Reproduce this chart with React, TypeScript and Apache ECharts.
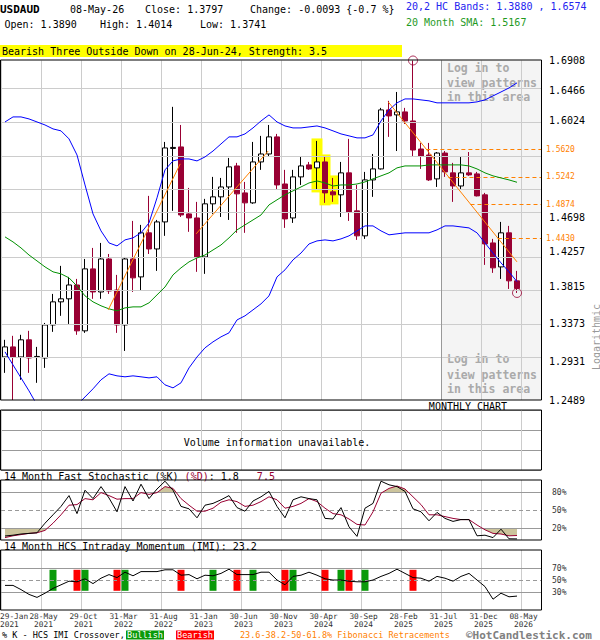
import React, { useEffect, useRef } from "react";
import * as echarts from "echarts";

// ---------------- data (monthly, Jan-2021 .. May-2026) ----------------
const opens = [
  1.2978, 1.3095, 1.2978, 1.3178, 1.2972, 1.2966, 1.3354, 1.3632, 1.3669, 1.3839,
  1.3284, 1.4039, 1.3753, 1.4164, 1.3777, 1.3354, 1.4164, 1.3939, 1.4498, 1.4291,
  1.464, 1.5632, 1.5653, 1.4745, 1.4692, 1.4189, 1.4878, 1.4971, 1.5104, 1.539,
  1.5024, 1.4891, 1.5445, 1.5555, 1.5794, 1.5144, 1.4692, 1.524, 1.5404, 1.5363,
  1.5445, 1.5038, 1.4998, 1.5295, 1.4785, 1.4459, 1.5199, 1.5349, 1.6179, 1.6107,
  1.615, 1.602, 1.5624, 1.5541, 1.5213, 1.5568, 1.5295, 1.5117, 1.5295, 1.5281,
  1.4998, 1.4368, 1.4064, 1.4498, 1.389,
];
const highs = [
  1.3178, 1.3225, 1.3237, 1.3284, 1.3095, 1.3378, 1.3729, 1.4077, 1.3939, 1.3914,
  1.4164, 1.4304, 1.4368, 1.4227, 1.3964, 1.4189, 1.4653, 1.4601, 1.4984, 1.4666,
  1.5723, 1.6223, 1.5963, 1.5091, 1.4904, 1.4944, 1.524, 1.5226, 1.55, 1.5432,
  1.5172, 1.5723, 1.5808, 1.5963, 1.5836, 1.5336, 1.5336, 1.5527, 1.5445, 1.5737,
  1.5514, 1.5226, 1.5445, 1.5766, 1.5131, 1.5308, 1.5555, 1.6208, 1.631, 1.644,
  1.6208, 1.6908, 1.5709, 1.5709, 1.5582, 1.5596, 1.5432, 1.5527, 1.5582, 1.5308,
  1.5024, 1.442, 1.464, 1.4588, 1.4014,
];
const lows = [
  1.2795, 1.2489, 1.2716, 1.2795, 1.2682, 1.2852, 1.3272, 1.3463, 1.3366, 1.3237,
  1.326, 1.3669, 1.3669, 1.3729, 1.326, 1.3048, 1.3753, 1.3777, 1.4227, 1.4014,
  1.4459, 1.4785, 1.4705, 1.4511, 1.4002, 1.3977, 1.4745, 1.4705, 1.4666, 1.4498,
  1.4498, 1.4878, 1.5336, 1.5514, 1.5064, 1.4562, 1.4627, 1.5131, 1.5336, 1.5064,
  1.4891, 1.4904, 1.4705, 1.4653, 1.4407, 1.442, 1.4971, 1.534, 1.5794, 1.5596,
  1.5977, 1.5514, 1.5349, 1.5185, 1.5104, 1.524, 1.4904, 1.5077, 1.5254, 1.4977,
  1.4089, 1.3989, 1.3914, 1.379, 1.3741,
];
const closes = [
  1.3095, 1.2978, 1.3178, 1.2966, 1.2984, 1.3354, 1.3632, 1.3669, 1.3839, 1.3284,
  1.4039, 1.3753, 1.4164, 1.3765, 1.3354, 1.4164, 1.3927, 1.4498, 1.4291, 1.464,
  1.5639, 1.5646, 1.4731, 1.4692, 1.4189, 1.4878, 1.4971, 1.5104, 1.5377, 1.5011,
  1.4891, 1.5445, 1.5555, 1.5794, 1.5131, 1.4679, 1.524, 1.539, 1.5349, 1.5445,
  1.5024, 1.4998, 1.5295, 1.4771, 1.4459, 1.5199, 1.5349, 1.6179, 1.6092, 1.615,
  1.602, 1.561, 1.5527, 1.5199, 1.5568, 1.5308, 1.5117, 1.5295, 1.5267, 1.4984,
  1.4355, 1.4052, 1.4498, 1.389, 1.3797,
];
const hcUpper = [
  1.6006, 1.6078, 1.6078, 1.6049, 1.6006, 1.5963, 1.5907, 1.5879, 1.5766, 1.5541,
  1.5131, 1.4745, 1.4523, 1.4368, 1.433, 1.4407, 1.4433, 1.4498, 1.4627, 1.4958,
  1.5336, 1.5459, 1.5486, 1.5486, 1.5459, 1.5514, 1.5596, 1.5695, 1.5794, 1.5794,
  1.5836, 1.5921, 1.602, 1.6107, 1.6006, 1.5949, 1.5921, 1.5921, 1.5935, 1.5949,
  1.5921, 1.5879, 1.5836, 1.5808, 1.578, 1.578, 1.5822, 1.602, 1.6179, 1.6281,
  1.6338, 1.6338, 1.6324, 1.631, 1.6281, 1.6281, 1.6281, 1.6281, 1.6281, 1.6295,
  1.6324, 1.6382, 1.644, 1.6499, 1.6574,
];
const hcLower = [
  1.3037, 1.2886, 1.2738, 1.2591, 1.2434, 1.2365, 1.2321, 1.2321, 1.2365, 1.2434,
  1.2523, 1.2614, 1.2716, 1.2784, 1.2761, 1.275, 1.2761, 1.275, 1.2738, 1.275,
  1.2659, 1.2625, 1.2682, 1.2852, 1.2978, 1.3084, 1.3154, 1.3213, 1.326, 1.3414,
  1.3463, 1.3535, 1.3608, 1.3705, 1.3939, 1.4027, 1.4152, 1.4239, 1.4355, 1.4394,
  1.4407, 1.4394, 1.442, 1.4459, 1.4523, 1.4588, 1.4588, 1.4523, 1.4472, 1.4485,
  1.4498, 1.4498, 1.4498, 1.4498, 1.4536, 1.4588, 1.4588, 1.4575, 1.4562, 1.4498,
  1.4368, 1.4239, 1.4114, 1.4002, 1.388,
];
const sma20 = [
  1.4446, 1.4381, 1.4304, 1.4214, 1.4139, 1.4064, 1.4002, 1.3977, 1.3927, 1.3826,
  1.3705, 1.3632, 1.3584, 1.3547, 1.3523, 1.3559, 1.3571, 1.3571, 1.362, 1.3717,
  1.3814, 1.3964, 1.4052, 1.4127, 1.4177, 1.4214, 1.4278, 1.4342, 1.4433, 1.4536,
  1.4601, 1.4666, 1.4731, 1.4864, 1.4931, 1.4998, 1.5051, 1.5104, 1.5158, 1.5185,
  1.5158, 1.5117, 1.5131, 1.5131, 1.5144, 1.5172, 1.5213, 1.5254, 1.5295, 1.5363,
  1.539, 1.539, 1.539, 1.5404, 1.5404, 1.5404, 1.5404, 1.5404, 1.539, 1.5349,
  1.5295, 1.5254, 1.5226, 1.5199, 1.5167,
];
const stochK = [
  6.7, 8, 10, 11, 12, 28, 42, 56, 74, 44,
  83, 69, 89, 70, 47, 89, 65, 93, 69, 85,
  98, 83, 56, 52, 37, 58, 61, 67, 74, 54,
  48, 65, 72, 81, 56, 37, 67, 72, 69, 67,
  36, 35, 54, 22, 6, 53, 61, 98, 92, 89,
  81, 52, 47, 32, 46, 36, 31, 34, 34, 7,
  8, 4, 18, 2, 1.8,
];
const stochD = [
  4, 7, 9, 11, 12, 16, 28, 42, 58, 59,
  69, 67, 79, 74, 68, 69, 69, 79, 76, 79,
  89, 86, 69, 58, 48, 48, 53, 63, 67, 64,
  56, 58, 64, 72, 67, 53, 56, 61, 69, 64,
  53, 44, 42, 35, 26, 25, 47, 78, 86, 90,
  85, 72, 59, 42, 42, 39, 36, 34, 34, 25,
  17, 11, 10, 7, 7.5,
];
const imi = [
  41, 41, 34, 26, 21, 28, 36, 42, 48, 47,
  52, 44, 53, 59, 54, 63, 57, 64, 64, 64,
  67, 67, 58, 59, 52, 58, 57, 61, 68, 59,
  59, 59, 63, 63, 50, 42, 56, 58, 63, 58,
  52, 50, 50, 48, 47, 47, 50, 56, 61, 68,
  61, 54, 53, 48, 56, 53, 48, 56, 61, 50,
  39, 18, 28, 22, 23.2,
];
const bullishCross = [6, 10, 15, 26, 31, 36, 42, 45];
const bearishCross = [9, 14, 22, 29, 35, 40, 43, 51];
const imiBarRange = [32, 67];

const priceTicks = [1.2489, 1.2931, 1.3373, 1.3815, 1.4257, 1.4698, 1.514, 1.5582, 1.6024, 1.6466, 1.6908];
const priceTickLabels = ["1.2489", "1.2931", "1.3373", "1.3815", "1.4257", "1.4698", "", "", "1.6024", "1.6466", "1.6908"];
const priceMin = 1.2489;
const priceMax = 1.6908;

const fibLevels = [1.562, 1.5242, 1.4874, 1.443];
const trendLines = [
  [12.9, 1.3535, 21.9, 1.5418],
  [23.9, 1.4485, 32.9, 1.5596],
  [47.9, 1.6295, 64, 1.4127],
];
const patternBars = [39, 40, 41];
const markedPoints = [
  [51, 1.6908],
  [64, 1.3741],
];
const lockedFrom = 54.5;

const stochLevels = [80, 50, 20];
const imiLevels = [70, 50, 30];

const dateLabels = [
  "29-Jan\n2021", "28-May\n2021", "29-Oct\n2021", "31-Mar\n2022", "31-Aug\n2022",
  "31-Jan\n2023", "30-Jun\n2023", "30-Nov\n2023", "30-Apr\n2024", "30-Sep\n2024",
  "28-Feb\n2025", "31-Jul\n2025", "31-Dec\n2025", "08-May\n2026",
];
const dateStep = 40;

// ---------------- styling ----------------
const MONO = "'DejaVu Sans Mono', 'Liberation Mono', monospace";
const CRIMSON = "#990033";
const ORANGE = "#ff8000";
const BLUE = "#0000ff";
const GREEN = "#009000";
const KHAKI = "#ccc49c";
const GRIDC = "#cccccc";
const LEVELC = "#999999";
const X_MIN = -0.5;
const X_MAX = 67;
const PL = 1;
const PW = 540;

const LN = (v: number) => Math.log(v);

function T(text: string, x: number, y: number, o: any = {}) {
  const align = o.align || "left";
  const valign = o.valign || "middle";
  const style: any = {
    text,
    fill: o.fill || "#000",
    font: o.font || `10px ${MONO}`,
    textAlign: align,
    textVerticalAlign: valign,
    align,
    verticalAlign: valign,
  };
  if (o.lineHeight) style.lineHeight = o.lineHeight;
  if (o.rich) style.rich = o.rich;
  return { type: "text", x, y, z: o.z ?? 20, rotation: o.rotation || 0, silent: true, style };
}
function R(x: number, y: number, w: number, h: number, style: any, z = 20) {
  return { type: "rect", z, silent: true, shape: { x, y, width: w, height: h }, style };
}

function dataX(gridIndex: number) {
  return { type: "value", gridIndex, min: X_MIN, max: X_MAX, show: false, position: "top" };
}
function lineX(gridIndex: number) {
  return {
    type: "value",
    gridIndex,
    min: 0,
    max: PW,
    interval: dateStep,
    position: "bottom",
    z: 2,
    axisLine: { show: false },
    axisTick: { show: false },
    axisLabel: { show: false },
    splitLine: { show: true, lineStyle: { color: GRIDC, width: 1 } },
  };
}

function shadePoints(api: any, vals: number[], level: number, above: boolean) {
  const beyond = (v: number) => (above ? v > level : v < level);
  const pts: number[][] = [api.coord([0, level])];
  for (let i = 0; i < vals.length; i++) {
    const v = vals[i];
    if (i > 0) {
      const a = vals[i - 1];
      if (beyond(a) !== beyond(v)) {
        const t = (level - a) / (v - a);
        pts.push(api.coord([i - 1 + t, level]));
      }
    }
    pts.push(api.coord([i, beyond(v) ? v : level]));
  }
  pts.push(api.coord([vals.length - 1, level]));
  return pts;
}

function levelMarkLine(levels: number[]) {
  return {
    silent: true,
    symbol: ["none", "none"],
    animation: false,
    lineStyle: { color: LEVELC, width: 1, type: "solid" },
    label: { show: true, position: "end", distance: 11, fontSize: 8, fontFamily: MONO, color: "#333" },
    data: levels.map((v) => ({
      yAxis: v,
      label: { formatter: `${v}%` },
      lineStyle: v === 50 ? { type: [4, 3], color: LEVELC } : { type: "solid", color: LEVELC },
    })),
  };
}

function buildGraphics() {
  const n = closes.length;
  const change = closes[n - 1] - closes[n - 2];
  const pct = (change / closes[n - 2]) * 100;
  const loginStyle = { font: `bold 11.5px ${MONO}`, fill: "#aaaaaa", z: 2 };
  return [
    T("USDAUD", 0, 9.5, { font: `bold 11px ${MONO}` }),
    T("08-May-26", 70, 9.5),
    T(`Close: ${closes[n - 1].toFixed(4)}`, 145, 9.5),
    T(`Change: ${change.toFixed(4)} {${pct.toFixed(1)} %}`, 250, 9.5),
    T(`20,2 HC Bands: ${hcLower[n - 1].toFixed(4)} , ${hcUpper[n - 1].toFixed(4)}`, 406, 6, { fill: "#2424f0" }),
    T(`Open: ${opens[n - 1].toFixed(4)}`, 4.5, 24),
    T(`High: ${highs[n - 1].toFixed(4)}`, 100, 24),
    T(`Low: ${lows[n - 1].toFixed(4)}`, 200, 24),
    T(`20 Month SMA: ${sma20[n - 1].toFixed(4)}`, 406, 22, { fill: "#1f9a1f" }),
    R(0, 45, 402, 12, { fill: "#ffff00" }),
    T("Bearish Three Outside Down on 28-Jun-24, Strength: 3.5", 2, 51),
    T("Logarithmic", 596, 337, { fill: "#999", align: "center", rotation: Math.PI / 2 }),
    T("MONTHLY CHART", 468, 406, { align: "center" }),
    T("Log in to", 447, 67.5, loginStyle),
    T("view patterns", 447, 82.5, loginStyle),
    T("in this area", 447, 97, loginStyle),
    T("Log in to", 447, 358.5, loginStyle),
    T("view patterns", 447, 374.5, loginStyle),
    T("in this area", 447, 388.5, loginStyle),
    T("Volume information unavailable.", 277, 442, { align: "center" }),
    T(`14 Month Fast Stochastic (%K) {r|(%D)}: ${stochK[n - 1]}   {r|${stochD[n - 1]}}`, 4, 476, {
      rich: { r: { fill: CRIMSON, font: `10px ${MONO}` } },
    }),
    T(`14 Month HCS Intraday Momentum (IMI): ${imi[n - 1]}`, 4, 546),
    T("% K - HCS IMI Crossover,", 2, 635, { font: `8.5px ${MONO}` }),
    R(126, 630.5, 38, 9, { fill: "#0a9a0a" }),
    T("Bullish", 145, 635, { font: `8.5px ${MONO}`, fill: "#fff", align: "center", z: 21 }),
    R(176, 630.5, 38, 9, { fill: "#ff0000" }),
    T("Bearish", 195, 635, { font: `8.5px ${MONO}`, fill: "#fff", align: "center", z: 21 }),
    T("23.6-38.2-50-61.8% Fibonacci Retracements", 240, 635, { font: `8.5px ${MONO}`, fill: ORANGE }),
    T("\u00A9HotCandlestick.com", 466, 635, { font: `bold 11px ${MONO}`, fill: "#808080" }),
    R(0.5, 60, 541, 340, { fill: "none", stroke: "#000", lineWidth: 1 }, 30),
    R(0.5, 410, 541, 60, { fill: "none", stroke: "#000", lineWidth: 1 }, 30),
    R(0.5, 480, 541, 60, { fill: "none", stroke: "#000", lineWidth: 1 }, 30),
    R(0.5, 550, 541, 60, { fill: "none", stroke: "#000", lineWidth: 1 }, 30),
  ];
}

function buildOption() {
  const candleData = opens.map((o, i) => [i, LN(o), LN(closes[i]), LN(lows[i]), LN(highs[i])]);
  const lnSeries = (arr: number[]) => arr.map((v, i) => [i, LN(v)]);
  const idxSeries = (arr: number[]) => arr.map((v, i) => [i, v]);
  const tl = trendLines[2];
  const fibStart = (v: number) => {
    const t = (LN(v) - LN(tl[1])) / (LN(tl[3]) - LN(tl[1]));
    return tl[0] + t * (tl[2] - tl[0]);
  };

  const series: any[] = [
    {
      type: "line",
      xAxisIndex: 0,
      yAxisIndex: 0,
      z: 1,
      silent: true,
      data: [],
      markArea: {
        silent: true,
        itemStyle: { color: "#f4f4f4" },
        data: [[{ xAxis: lockedFrom }, { xAxis: X_MAX }]],
      },
    },
    {
      type: "line",
      xAxisIndex: 0,
      yAxisIndex: 0,
      z: 2,
      silent: true,
      data: [],
      markLine: {
        silent: true,
        symbol: ["none", "none"],
        animation: false,
        lineStyle: { color: GRIDC, width: 1, type: "solid" },
        label: { show: false },
        data: [
          ...priceTicks.map((v) => ({ yAxis: LN(v) })),
          { xAxis: lockedFrom, lineStyle: { color: LEVELC, type: "solid" } },
        ],
      },
    },
    {
      type: "custom",
      xAxisIndex: 0,
      yAxisIndex: 0,
      z: 3,
      silent: true,
      clip: false,
      encode: { x: 0, y: [1, 2] },
      data: patternBars.map((i) => [i, LN(highs[i]), LN(lows[i])]),
      renderItem: (_p: any, api: any) => {
        const x = api.value(0);
        const a = api.coord([x, api.value(1)]);
        const b = api.coord([x, api.value(2)]);
        return {
          type: "rect",
          shape: { x: a[0] - 5.5, y: a[1] - 2.5, width: 11, height: b[1] - a[1] + 5 },
          style: { fill: "#ffff00" },
        };
      },
    },
    {
      type: "candlestick",
      xAxisIndex: 0,
      yAxisIndex: 0,
      z: 4,
      silent: true,
      barWidth: 5,
      data: candleData,
      itemStyle: { color: "#ffffff", color0: CRIMSON, borderColor: "#000000", borderColor0: CRIMSON, borderWidth: 1 },
    },
    {
      type: "line", xAxisIndex: 0, yAxisIndex: 0, z: 5, silent: true, symbol: "none",
      data: lnSeries(hcUpper), lineStyle: { color: BLUE, width: 1 },
    },
    {
      type: "line", xAxisIndex: 0, yAxisIndex: 0, z: 5, silent: true, symbol: "none",
      data: lnSeries(hcLower), lineStyle: { color: BLUE, width: 1 },
    },
    {
      type: "line", xAxisIndex: 0, yAxisIndex: 0, z: 5, silent: true, symbol: "none",
      data: lnSeries(sma20), lineStyle: { color: GREEN, width: 1 },
    },
    ...trendLines.map((t) => ({
      type: "line", xAxisIndex: 0, yAxisIndex: 0, z: 5, silent: true, symbol: "none",
      data: [[t[0], LN(t[1])], [t[2], LN(t[3])]],
      lineStyle: { color: ORANGE, width: 1 },
    })),
    {
      type: "line",
      xAxisIndex: 0,
      yAxisIndex: 0,
      z: 5,
      silent: true,
      data: [],
      markLine: {
        silent: true,
        symbol: ["none", "none"],
        animation: false,
        lineStyle: { color: ORANGE, width: 1, type: [4, 3] },
        label: { show: true, position: "end", distance: 5, fontSize: 8, fontFamily: MONO, color: ORANGE },
        data: fibLevels.map((v) => [
          { coord: [fibStart(v), LN(v)], label: { formatter: v.toFixed(4) } },
          { coord: [X_MAX, LN(v)] },
        ]),
      },
    },
    {
      type: "scatter",
      xAxisIndex: 0,
      yAxisIndex: 0,
      z: 6,
      silent: true,
      clip: false,
      symbol: "circle",
      symbolSize: 9,
      data: markedPoints.map((p) => [p[0], LN(p[1])]),
      itemStyle: { color: "rgba(0,0,0,0)", borderColor: CRIMSON, borderWidth: 1 },
    },
    { type: "line", xAxisIndex: 3, yAxisIndex: 2, z: 2, silent: true, data: [], markLine: levelMarkLine(stochLevels) },
    {
      type: "custom",
      xAxisIndex: 3,
      yAxisIndex: 2,
      z: 3,
      silent: true,
      clip: false,
      data: [[0, 0]],
      renderItem: (p: any, api: any) => {
        if (p.dataIndex !== 0) return null;
        return {
          type: "group",
          children: [
            { type: "polygon", shape: { points: shadePoints(api, stochD, 80, true) }, style: { fill: KHAKI } },
            { type: "polygon", shape: { points: shadePoints(api, stochD, 20, false) }, style: { fill: KHAKI } },
          ],
        };
      },
    },
    {
      type: "line", xAxisIndex: 3, yAxisIndex: 2, z: 5, silent: true, symbol: "none",
      data: idxSeries(stochD), lineStyle: { color: CRIMSON, width: 1 },
    },
    {
      type: "line", xAxisIndex: 3, yAxisIndex: 2, z: 6, silent: true, symbol: "none",
      data: idxSeries(stochK), lineStyle: { color: "#000", width: 1 },
    },
    { type: "line", xAxisIndex: 5, yAxisIndex: 3, z: 2, silent: true, data: [], markLine: levelMarkLine(imiLevels) },
    {
      type: "custom",
      xAxisIndex: 5,
      yAxisIndex: 3,
      z: 3,
      silent: true,
      clip: false,
      encode: { x: 0, y: [1, 2] },
      data: [
        ...bullishCross.map((i) => [i, imiBarRange[1], imiBarRange[0], 1]),
        ...bearishCross.map((i) => [i, imiBarRange[1], imiBarRange[0], 0]),
      ],
      renderItem: (_p: any, api: any) => {
        const x = api.value(0);
        const a = api.coord([x, api.value(1)]);
        const b = api.coord([x, api.value(2)]);
        return {
          type: "rect",
          shape: { x: a[0] - 3.5, y: a[1], width: 7, height: b[1] - a[1] },
          style: { fill: api.value(3) ? "#0a9a0a" : "#ff0000" },
        };
      },
    },
    {
      type: "line", xAxisIndex: 5, yAxisIndex: 3, z: 5, silent: true, symbol: "none",
      data: idxSeries(imi), lineStyle: { color: "#000", width: 1 },
    },
  ];

  const gridBase = { left: PL, width: PW, containLabel: false, outerBoundsMode: "none", show: false };

  return {
    animation: false,
    backgroundColor: "#ffffff",
    grid: [
      { ...gridBase, top: 60.5, height: 339.5 },
      { ...gridBase, top: 410, height: 60 },
      { ...gridBase, top: 480, height: 60 },
      { ...gridBase, top: 550, height: 60 },
    ],
    xAxis: [dataX(0), lineX(0), lineX(1), dataX(2), lineX(2), dataX(3), lineX(3)],
    yAxis: [
      { type: "value", gridIndex: 0, min: LN(priceMin), max: LN(priceMax), show: false },
      {
        type: "value",
        gridIndex: 1,
        min: 0,
        max: 3,
        interval: 1,
        axisLine: { show: false },
        axisTick: { show: false },
        axisLabel: { show: false },
        splitLine: { show: true, lineStyle: { color: LEVELC, width: 1 } },
      },
      { type: "value", gridIndex: 2, min: 0, max: 100, show: false },
      { type: "value", gridIndex: 3, min: 0, max: 100, show: false },
    ],
    series,
    graphic: { elements: buildGraphics() },
  };
}

// tick labels placed through the axes' own scales
function axisLabelGraphics(chart: any) {
  const out: any[] = [];
  priceTicks.forEach((v, k) => {
    const s = priceTickLabels[k];
    if (!s) return;
    const p = chart.convertToPixel({ xAxisIndex: 0, yAxisIndex: 0 }, [X_MAX, LN(v)]);
    out.push(T(s, p[0] + 8, p[1], { font: `10px ${MONO}` }));
  });
  dateLabels.forEach((s, k) => {
    const p = chart.convertToPixel({ xAxisIndex: 6, yAxisIndex: 3 }, [k * dateStep, 0]);
    out.push(
      T(s, k === 0 ? p[0] - 1 : p[0] + 2.5, p[1] + 2, {
        font: `7.8px ${MONO}`,
        fill: "#333",
        align: k === 0 ? "left" : "center",
        valign: "top",
        lineHeight: 8,
      })
    );
  });
  return out;
}

export default function App() {
  const ref = useRef<HTMLDivElement>(null);
  useEffect(() => {
    if (!ref.current) return;
    const chart = echarts.init(ref.current, null, { renderer: "svg" });
    chart.setOption(buildOption() as any);
    chart.setOption({ graphic: { elements: [...buildGraphics(), ...axisLabelGraphics(chart)] } } as any);
    return () => chart.dispose();
  }, []);
  return (
    <div
      ref={ref}
      style={{ position: "fixed", left: 0, top: 0, width: 600, height: 640, background: "#fff" }}
    />
  );
}
